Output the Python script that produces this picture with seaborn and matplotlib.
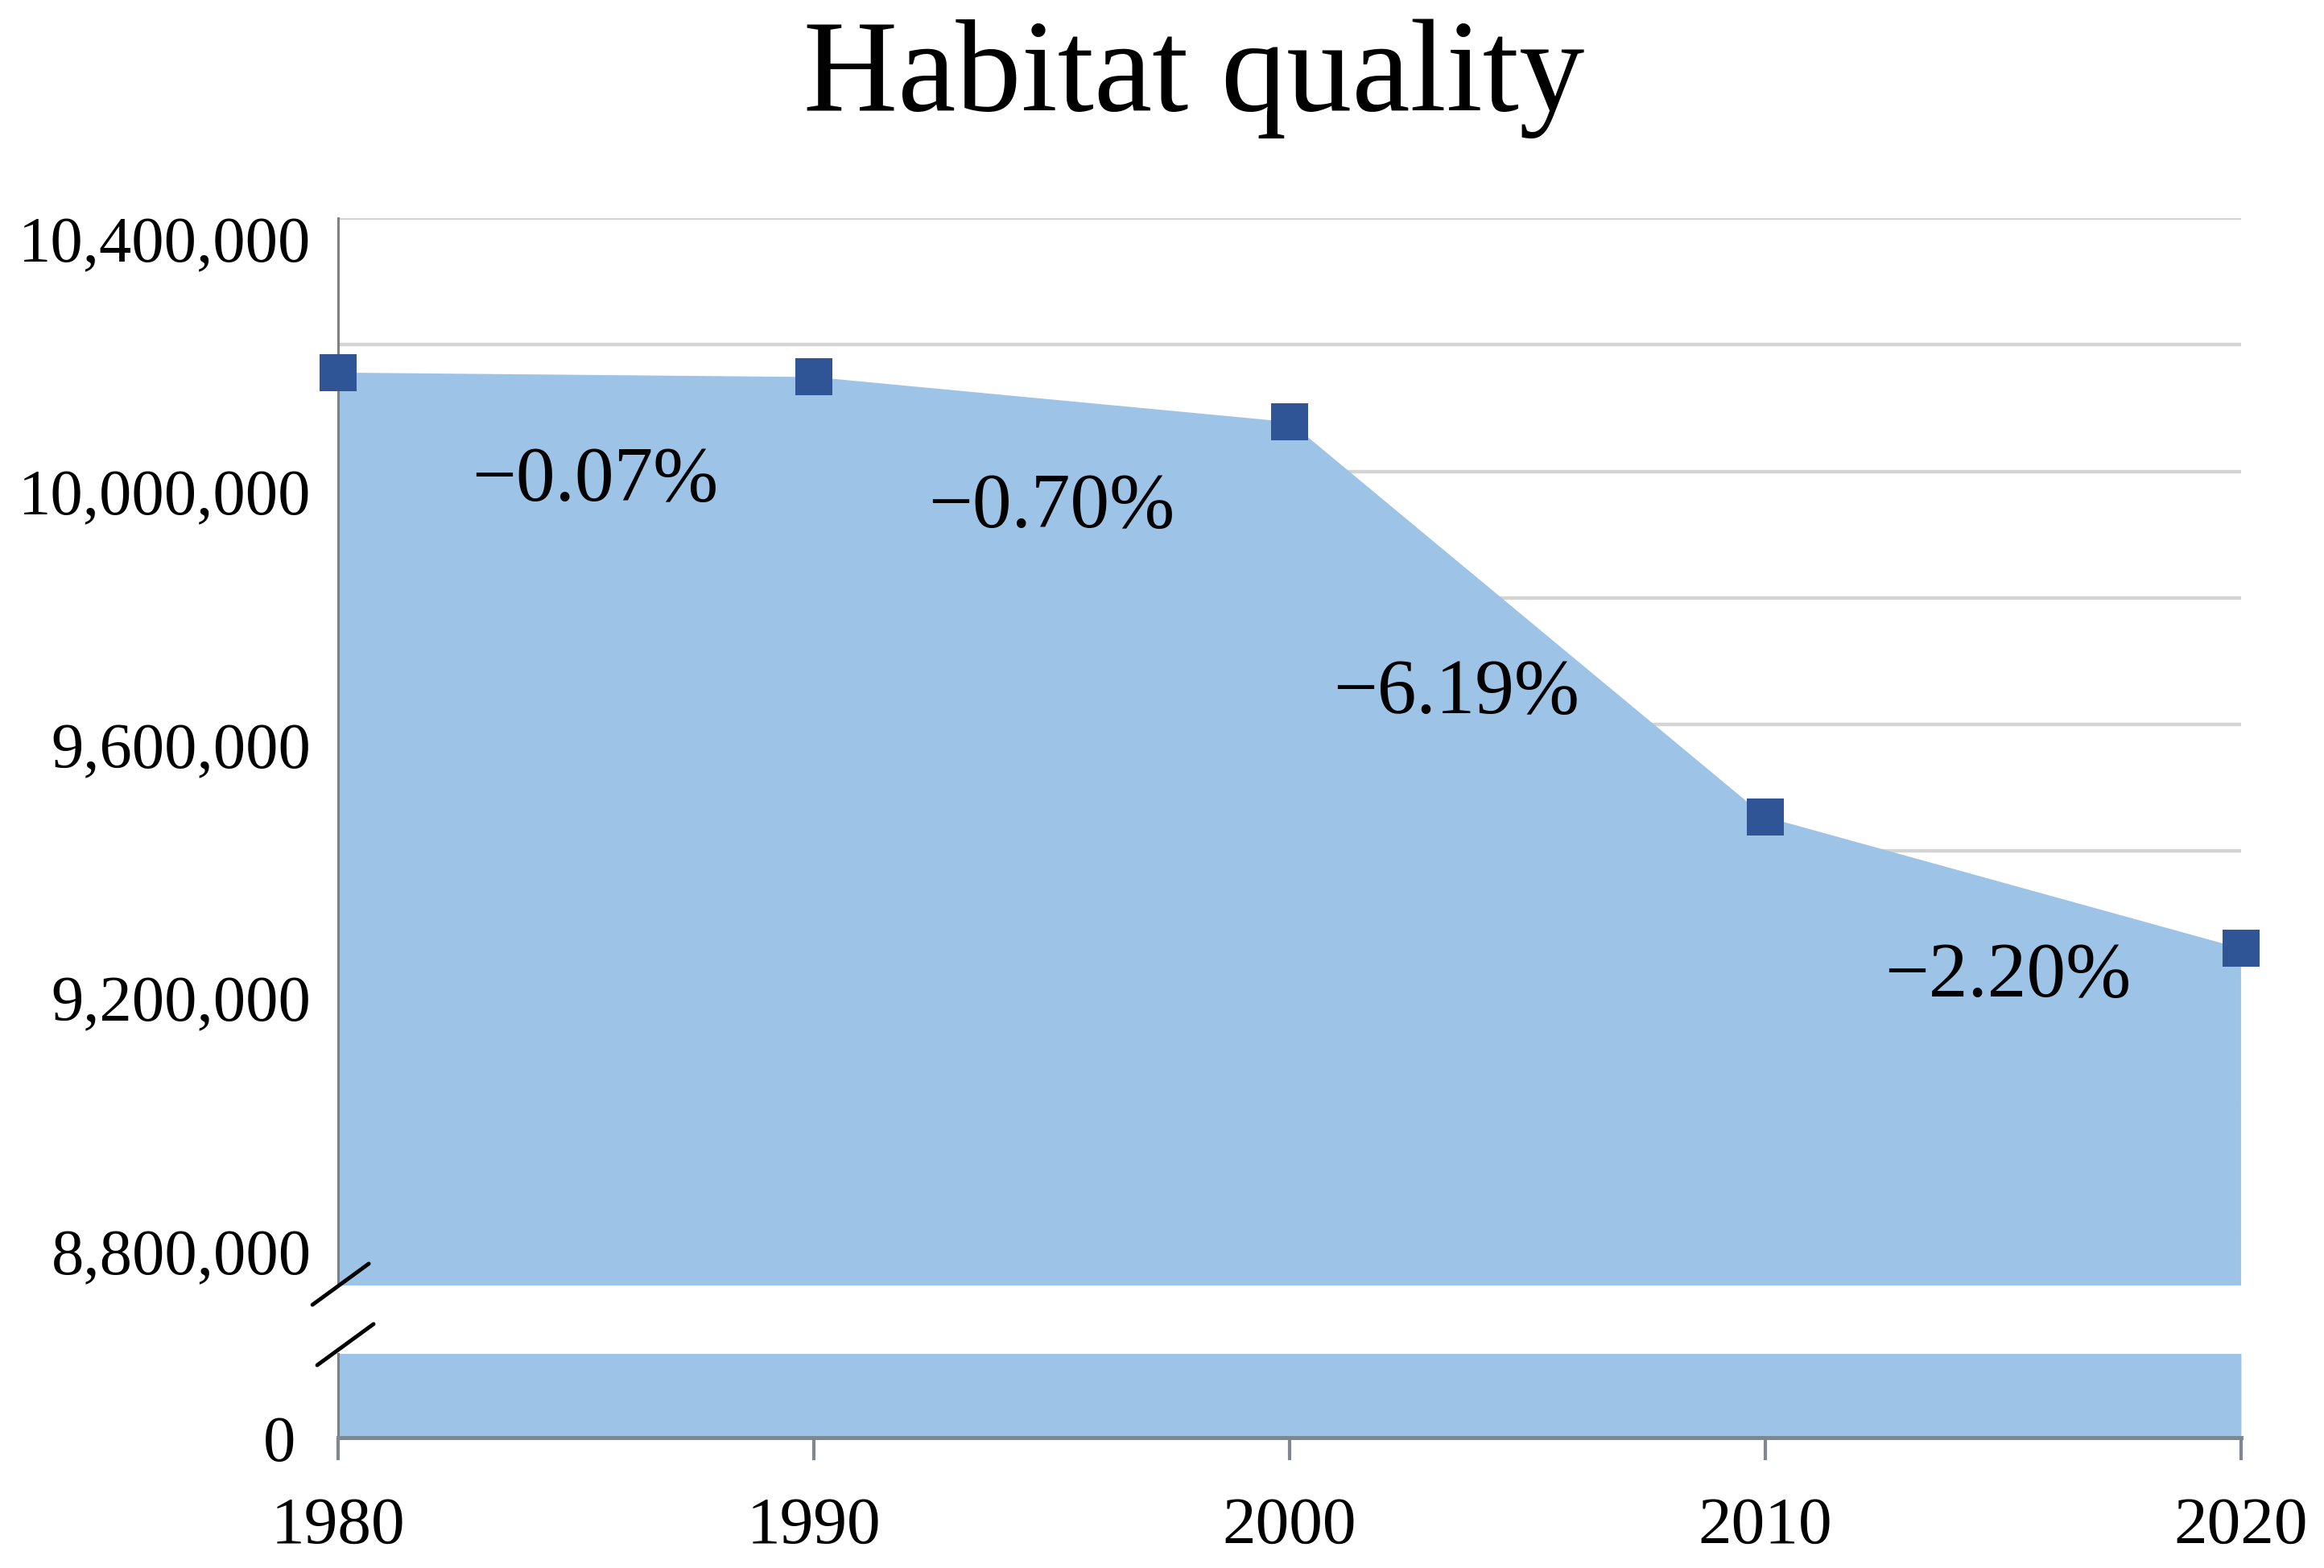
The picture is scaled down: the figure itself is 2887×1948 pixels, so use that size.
import matplotlib
matplotlib.use("Agg")
import matplotlib.pyplot as plt
import matplotlib.transforms as mtransforms
import pandas as pd
import seaborn as sns

years = [1980, 1990, 2000, 2010, 2020]
habitat_quality = [10156000, 10149000, 10078000, 9454000, 9246000]

change_labels = ["\u22120.07%", "\u22120.70%", "\u22126.19%", "\u22122.20%"]
label_x = [1985.4, 1995.0, 2003.5, 2015.1]
label_y = [9955000, 9913000, 9619000, 9171000]

y_ticks = [8800000, 9000000, 9200000, 9400000, 9600000, 9800000, 10000000, 10200000, 10400000]
y_tick_labels = ["8,800,000", "", "9,200,000", "", "9,600,000", "", "10,000,000", "", "10,400,000"]

df = pd.DataFrame({"year": years, "value": habitat_quality})

sns.set_theme(style="white")
plt.rcParams["font.family"] = ["Liberation Serif", "DejaVu Serif"]

fill_color = "#9DC3E6"
marker_color = "#2F5597"
axis_color = "#808080"
xaxis_color = "#7F8891"

fig = plt.figure(figsize=(28.87, 19.49), dpi=100)
ax_top = fig.add_axes([0.1455, 0.1801, 0.8188, 0.6803])
ax_bot = fig.add_axes([0.1455, 0.0831, 0.8188, 0.0534])

# upper part of the broken axis
ax_top.set_axisbelow(True)
ax_top.fill_between(df["year"], df["value"], 0, color=fill_color, linewidth=0, zorder=1)
sns.scatterplot(data=df, x="year", y="value", marker="s", s=1100, color=marker_color,
                linewidth=0, ax=ax_top, clip_on=False, zorder=5)
ax_top.set_xlim(1980, 2020)
ax_top.set_ylim(8713500, 10400000)
ax_top.set_yticks(y_ticks)
ax_top.set_yticklabels(y_tick_labels)
ax_top.yaxis.grid(True, color="#D4D4D4", linewidth=3.2)
ax_top.xaxis.grid(False)
ax_top.tick_params(axis="y", length=0, pad=24, labelsize=58, labelcolor="black")
ax_top.tick_params(axis="x", bottom=False, labelbottom=False)
ax_top.set_xlabel("")
ax_top.set_ylabel("")
for side in ["top", "right", "bottom"]:
    ax_top.spines[side].set_visible(False)
ax_top.spines["left"].set_color(axis_color)
ax_top.spines["left"].set_linewidth(2.2)

offset = mtransforms.ScaledTranslation(0, -0.25, fig.dpi_scale_trans)
for lab in ax_top.get_yticklabels():
    lab.set_transform(lab.get_transform() + offset)

for x, y, t in zip(label_x, label_y, change_labels):
    ax_top.text(x, y, t, ha="center", va="baseline", fontsize=70, color="black", zorder=6)

# lower part (near zero)
ax_bot.fill_between(df["year"], df["value"], 0, color=fill_color, linewidth=0, zorder=1)
ax_bot.set_xlim(1980, 2020)
ax_bot.set_ylim(0, 1000000)
ax_bot.set_xticks(years)
ax_bot.set_xticklabels([str(y) for y in years])
ax_bot.set_yticks([0])
ax_bot.set_yticklabels(["0"])
ax_bot.tick_params(axis="x", bottom=True, direction="out", length=20, width=3,
                   color=xaxis_color, pad=32, labelsize=60, labelcolor="black")
ax_bot.tick_params(axis="y", length=0, pad=38, labelsize=58, labelcolor="black")
for side in ["top", "right"]:
    ax_bot.spines[side].set_visible(False)
ax_bot.spines["left"].set_color(axis_color)
ax_bot.spines["left"].set_linewidth(2.2)
ax_bot.spines["bottom"].set_color(xaxis_color)
ax_bot.spines["bottom"].set_linewidth(3.6)
ax_bot.spines["bottom"].set_zorder(3)

# break marks
ax_top.plot([-0.0135, 0.0161], [-0.0181, 0.0204], transform=ax_top.transAxes,
            color="black", linewidth=3.5, clip_on=False, zorder=7)
ax_bot.plot([-0.0110, 0.0186], [0.865, 1.356], transform=ax_bot.transAxes,
            color="black", linewidth=3.5, clip_on=False, zorder=7)

fig.text(0.5137, 0.9297, "Habitat quality", ha="center", va="baseline", fontsize=117, color="black")

fig.savefig("out.png", dpi=100, facecolor="white")
